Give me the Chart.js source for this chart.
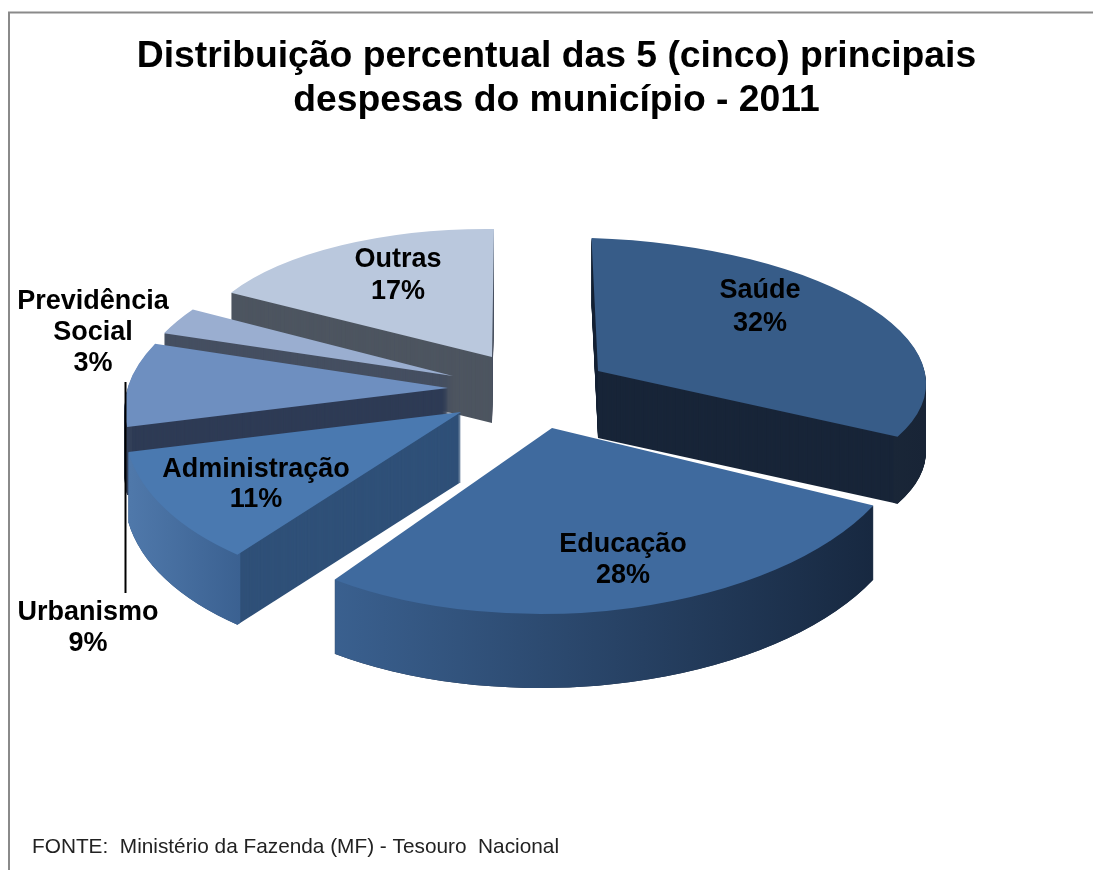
<!DOCTYPE html>
<html><head><meta charset="utf-8">
<style>html,body{margin:0;padding:0;background:#fff}#w{width:1093px;height:870px}canvas{display:block}</style>
<script src="https://cdn.jsdelivr.net/npm/chart.js@4"></script>
</head><body><div id="w"><canvas id="c"></canvas></div>
<script>
const categories = ['Saúde','Educação','Administração','Urbanismo','Previdência Social','Outras'];
const values = [32,28,11,9,3,17];
const titleLines = ['Distribuição percentual das 5 (cinco) principais','despesas do município - 2011'];
const sourceNote = 'FONTE:  Ministério da Fazenda (MF) - Tesouro  Nacional';
const topColors = ['#375c88','#3f6a9e','#4a79b0','#6e8fc0','#9aaed0','#bac8dd'];

// Chart.js has no 3D pies: each arc element is projected by its own affine pose.
// [apexX, apexY, xu, yu, xv, yv, depth]
const poses = [
  [598,371,328,10,6.5,133,67],
  [552,428,359,-2,-8,186,74],
  [461,412,335,5,-33,180,70],
  [448,388,321,-2,-40,149,68],
  [453,376,314,0,-31,138,60],
  [492,357,299,3,-2,128,66]
];
const sideColors = ['#182538','#1a2a42','#2f5078','#2e3b55','#454f61','#4d5560'];
const rimStops = [
  [880,925,'#1a2738','#182436'],
  [335,875,'#3a608f','#172840'],
  [130,245,'#4f78aa','#3a6090'],
  [118,135,'#323f58','#323f58'],
  [160,200,'#454f61','#454f61'],
  [230,495,'#4d5560','#4d5560']
];
const drawOrder = [5,0,4,3,2,1];
const labelLines = [['Saúde','32%'],['Educação','28%'],['Administração','11%'],['Urbanismo','9%'],['Previdência','Social','3%'],['Outras','17%']];
const labelX = [760,623,256,88,93,398];
const labelTop = [291,545,470,613,302,260];
const labelStep = [33,31,30,31,31,32];

function poseMatrix(el,p){
  const R=el.outerRadius, [ax,ay,xu,yu,xv,yv]=p;
  return [xu/R,yu/R,xv/R,yv/R, ax-(xu*el.x+xv*el.y)/R, ay-(yu*el.x+yv*el.y)/R];
}
const pie3d={
  id:'pie3d',
  beforeDatasetsDraw(chart){
    const ctx=chart.ctx, els=chart.getDatasetMeta(0).data;
    drawOrder.forEach(i=>{
      const el=els[i],p=poses[i],m=poseMatrix(el,p),R=el.outerRadius,depth=p[6];
      const rs=rimStops[i];
      const g=ctx.createLinearGradient(rs[0],0,rs[1],0);
      g.addColorStop(0,rs[2]);g.addColorStop(1,rs[3]);
      ctx.save();
      for(let d=depth;d>=1;d--){
        ctx.setTransform(m[0],m[1],m[2],m[3],m[4],m[5]+d);
        ctx.beginPath();
        ctx.moveTo(el.x,el.y);
        ctx.arc(el.x,el.y,R,el.startAngle,el.endAngle);
        ctx.closePath();
        ctx.setTransform(1,0,0,1,0,0);
        ctx.fillStyle=sideColors[i];ctx.fill();
      }
      // only the part of the rim that faces the viewer (lower half of the ellipse)
      const a0=Math.max(el.startAngle,0), a1=Math.min(el.endAngle,Math.PI);
      if(a1>a0){
        for(let d=depth;d>=1;d--){
          ctx.setTransform(m[0],m[1],m[2],m[3],m[4],m[5]+d);
          ctx.beginPath();
          ctx.arc(el.x,el.y,R,a0,a1);
          ctx.arc(el.x,el.y,R*0.985,a1,a0,true);
          ctx.closePath();
          ctx.setTransform(1,0,0,1,0,0);
          ctx.fillStyle=g;ctx.fill();
        }
      }
      ctx.setTransform(m[0],m[1],m[2],m[3],m[4],m[5]);
      el.draw(ctx);
      ctx.restore();
    });
    return false;
  },
  afterDraw(chart){
    const ctx=chart.ctx;
    ctx.save();
    ctx.strokeStyle='#8a8a8a';ctx.lineWidth=2;
    ctx.beginPath();ctx.moveTo(9,870);ctx.lineTo(9,12.5);ctx.lineTo(1093,12.5);ctx.stroke();
    ctx.strokeStyle='#000';ctx.lineWidth=2;
    ctx.beginPath();ctx.moveTo(125.5,382);ctx.lineTo(125.5,593);ctx.stroke();
    ctx.fillStyle='#000';ctx.textAlign='center';ctx.textBaseline='middle';
    ctx.font='bold 27px "Liberation Sans"';
    labelLines.forEach((ls,i)=>ls.forEach((t,j)=>ctx.fillText(t,labelX[i],labelTop[i]+j*labelStep[i])));
    ctx.fillStyle='#222';ctx.textAlign='left';
    ctx.font='20.8px "Liberation Sans"';
    ctx.fillText(sourceNote,32,847);
    ctx.restore();
  }
};
new Chart(document.getElementById('c'),{
  type:'pie',
  data:{labels:categories,datasets:[{data:values,backgroundColor:topColors,borderWidth:0}]},
  options:{
    responsive:true,maintainAspectRatio:false,animation:false,
    layout:{padding:{top:0,left:20,right:0,bottom:60}},
    plugins:{
      legend:{display:false},tooltip:{enabled:false},
      title:{display:true,text:titleLines,color:'#000',padding:{top:35,bottom:20},
        font:{family:'"Liberation Sans"',size:37.3,weight:'bold',lineHeight:1.18}}
    }
  },
  plugins:[pie3d]
});
</script></body></html>
